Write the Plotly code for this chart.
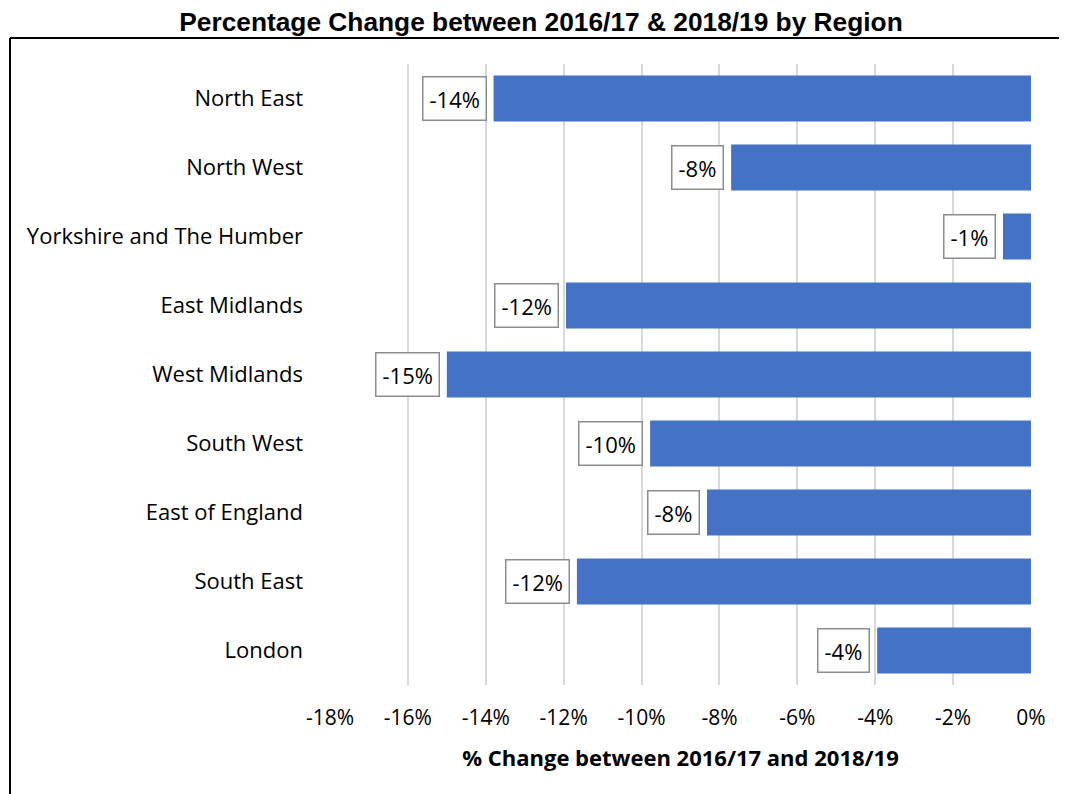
import plotly.graph_objects as go

regions = ["North East", "North West", "Yorkshire and The Humber", "East Midlands",
           "West Midlands", "South West", "East of England", "South East", "London"]
pct_change = [-13.8, -7.7, -0.72, -11.94, -15.0, -9.78, -8.32, -11.66, -3.95]
label_text = ["-14%", "-8%", "-1%", "-12%", "-15%", "-10%", "-8%", "-12%", "-4%"]
tick_vals = [-18, -16, -14, -12, -10, -8, -6, -4, -2, 0]
tick_text = ["-18%", "-16%", "-14%", "-12%", "-10%", "-8%", "-6%", "-4%", "-2%", "0%"]

# page has an 8px body margin, so the figure is offset by 8px
W, H = 1067, 794
L, R, T, B = 322, 44, 56, 117
pw, ph = W - L - R, H - T - B

font_main = "Open Sans, Lato, sans-serif"

fig = go.Figure(go.Bar(
    x=pct_change, y=regions, orientation="h",
    marker=dict(color="#4472C4", line=dict(width=0)),
    width=0.67, hoverinfo="x+y",
))

annotations = []
for r, v, t in zip(regions, pct_change, label_text):
    annotations.append(dict(
        x=v, y=r, xref="x", yref="y", text=t, showarrow=False,
        xanchor="right", yanchor="middle", xshift=-7,
        font=dict(family=font_main, size=22, color="#000000"),
        bgcolor="white", bordercolor="#8c8c8c", borderwidth=1.5, borderpad=6,
    ))

fig.update_layout(
    width=W, height=H,
    margin=dict(l=L, r=R, t=T, b=B, autoexpand=False),
    paper_bgcolor="white", plot_bgcolor="white",
    showlegend=False,
    bargap=0.33,
    title=dict(
        text="<b>Percentage Change between 2016/17 & 2018/19 by Region</b>",
        x=533 / W, xanchor="center", y=1 - 14 / H, yanchor="middle",
        xref="container", yref="container",
        font=dict(family="Liberation Sans, Arial, sans-serif", size=26.3, color="#000000"),
    ),
    xaxis=dict(
        range=[-18, 0], tickvals=tick_vals, ticktext=tick_text,
        showgrid=True, gridcolor="#d9d9d9", gridwidth=1.5,
        zeroline=False, showline=False, ticks="",
        ticklabelstandoff=18,
        tickfont=dict(family=font_main, size=21, color="#000000"),
        title=dict(text="<b>% Change between 2016/17 and 2018/19</b>", standoff=20,
                   font=dict(family=font_main, size=22, color="#000000")),
        fixedrange=True,
    ),
    yaxis=dict(
        categoryorder="array", categoryarray=regions, autorange="reversed",
        showgrid=False, zeroline=False, showline=False, ticks="",
        ticklabelstandoff=26,
        tickfont=dict(family=font_main, size=22, color="#000000"),
        fixedrange=True,
    ),
    annotations=annotations,
)

# Frame lines (top and left edges of the chart border)
x_left = (2 - L) / pw
x_right = (W + 5 - L) / pw
y_top = (H - B - 30) / ph
y_bot = (H - B - H - 5) / ph
fig.add_shape(type="line", xref="paper", yref="paper", x0=x_left, x1=x_right,
              y0=y_top, y1=y_top, line=dict(color="#000000", width=2))
fig.add_shape(type="line", xref="paper", yref="paper", x0=x_left, x1=x_left,
              y0=y_top, y1=y_bot, line=dict(color="#000000", width=2))

fig.write_html("out.html")
